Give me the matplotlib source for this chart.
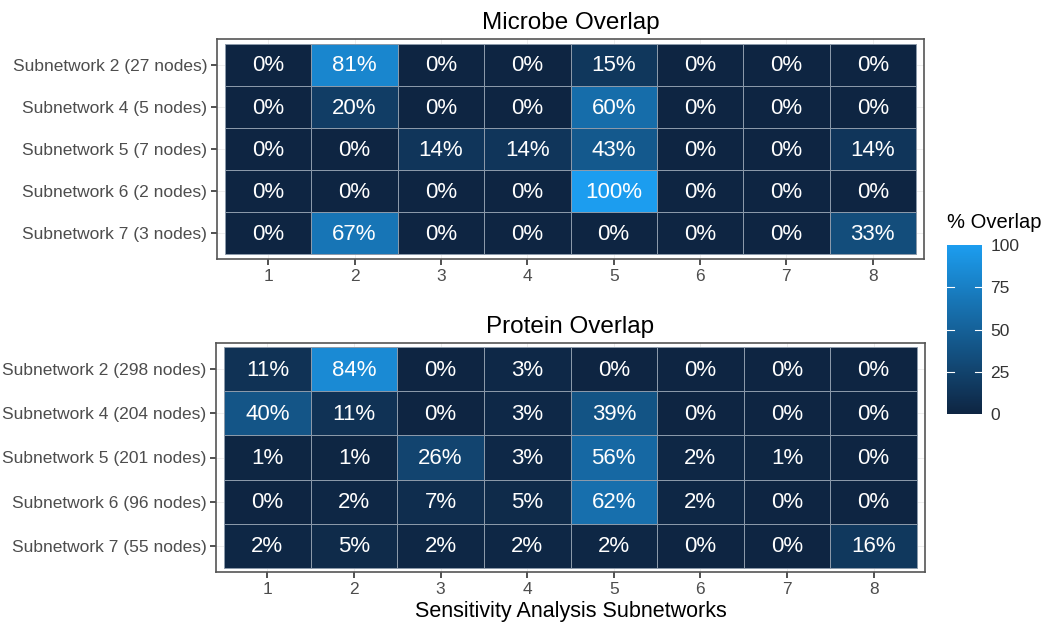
import numpy as np
import matplotlib
matplotlib.use("Agg")
import matplotlib.pyplot as plt
from matplotlib.colors import LinearSegmentedColormap, Normalize
from matplotlib.cm import ScalarMappable

plt.rcParams['font.family'] = ['Liberation Sans', 'DejaVu Sans']

columns = [1, 2, 3, 4, 5, 6, 7, 8]

microbe_rows = ["Subnetwork 2 (27 nodes)", "Subnetwork 4 (5 nodes)", "Subnetwork 5 (7 nodes)",
                "Subnetwork 6 (2 nodes)", "Subnetwork 7 (3 nodes)"]
microbe_vals = [
    [0, 81, 0, 0, 15, 0, 0, 0],
    [0, 20, 0, 0, 60, 0, 0, 0],
    [0, 0, 14, 14, 43, 0, 0, 14],
    [0, 0, 0, 0, 100, 0, 0, 0],
    [0, 67, 0, 0, 0, 0, 0, 33],
]

protein_rows = ["Subnetwork 2 (298 nodes)", "Subnetwork 4 (204 nodes)", "Subnetwork 5 (201 nodes)",
                "Subnetwork 6 (96 nodes)", "Subnetwork 7 (55 nodes)"]
protein_vals = [
    [11, 84, 0, 3, 0, 0, 0, 0],
    [40, 11, 0, 3, 39, 0, 0, 0],
    [1, 1, 26, 3, 56, 2, 1, 0],
    [0, 2, 7, 5, 62, 2, 0, 0],
    [2, 5, 2, 2, 2, 0, 0, 16],
]

cbar_ticks = [0, 25, 50, 75, 100]

cmap = LinearSegmentedColormap.from_list("ov", ["#0E2542", "#1C9DEF"])
norm = Normalize(0, 100)

W, H = 1050, 626
fig = plt.figure(figsize=(W / 100, H / 100), dpi=100)


def frac(x0, y0, x1, y1):
    return [x0 / W, 1 - y1 / H, (x1 - x0) / W, (y1 - y0) / H]


def draw(ax, rows, vals, title, gapx, gapy):
    vals = np.array(vals)
    nr, nc = vals.shape
    ax.set_xlim(0.5 - gapx, nc + 0.5 + gapx)
    ax.set_ylim(nr + 0.5 + gapy, 0.5 - gapy)
    for t in columns:
        ax.axvline(t, color="#ebebeb", lw=0.6, zorder=0)
    for r in range(1, nr + 1):
        ax.axhline(r, color="#ebebeb", lw=0.6, zorder=0)
    for i in range(nr):
        for j in range(nc):
            v = vals[i, j]
            ax.add_patch(plt.Rectangle((columns[j] - 0.5, i + 0.5), 1, 1,
                                       facecolor=cmap(norm(v)), edgecolor="#8d9bab",
                                       lw=0.7, zorder=2))
            ax.text(columns[j], i + 1.03, f"{v}%", ha="center", va="center",
                    color="white", fontsize=16, zorder=3)
    ax.set_xticks(columns)
    ax.set_xticklabels([str(c) for c in columns])
    ax.set_yticks(range(1, nr + 1))
    ax.set_yticklabels(rows)
    ax.tick_params(axis="both", colors="#333333", labelcolor="#4d4d4d",
                   labelsize=12.5, length=4, width=1.2)
    ax.tick_params(axis="x", pad=3)
    ax.tick_params(axis="y", pad=3)
    for s in ax.spines.values():
        s.set_color("#555555")
        s.set_linewidth(1.2)
    ax.set_title(title, fontsize=17.5, pad=7, color="black")


ax1 = fig.add_axes(frac(217, 39, 924, 259))
draw(ax1, microbe_rows, microbe_vals, "Microbe Overlap", 0.093, 0.11)

ax2 = fig.add_axes(frac(216, 343, 925, 572))
draw(ax2, protein_rows, protein_vals, "Protein Overlap", 0.093, 0.1)
ax2.set_xlabel("Sensitivity Analysis Subnetworks", fontsize=15.5, labelpad=3, color="black")

cax = fig.add_axes(frac(947, 245, 982, 414))
sm = ScalarMappable(norm=norm, cmap=cmap)
cb = fig.colorbar(sm, cax=cax, ticks=cbar_ticks)
cb.outline.set_visible(False)
cax.tick_params(length=0, labelsize=12.5, labelcolor="#333333", pad=6)
for t in cbar_ticks[1:-1]:
    cax.plot([0, 0.2], [t, t], color="white", lw=0.8, transform=cax.get_yaxis_transform())
    cax.plot([0.8, 1.0], [t, t], color="white", lw=0.8, transform=cax.get_yaxis_transform())
fig.text(947 / W, 1 - 223 / H, "% Overlap", fontsize=14.5, ha="left", va="center")

fig.savefig("out.png", dpi=100)
